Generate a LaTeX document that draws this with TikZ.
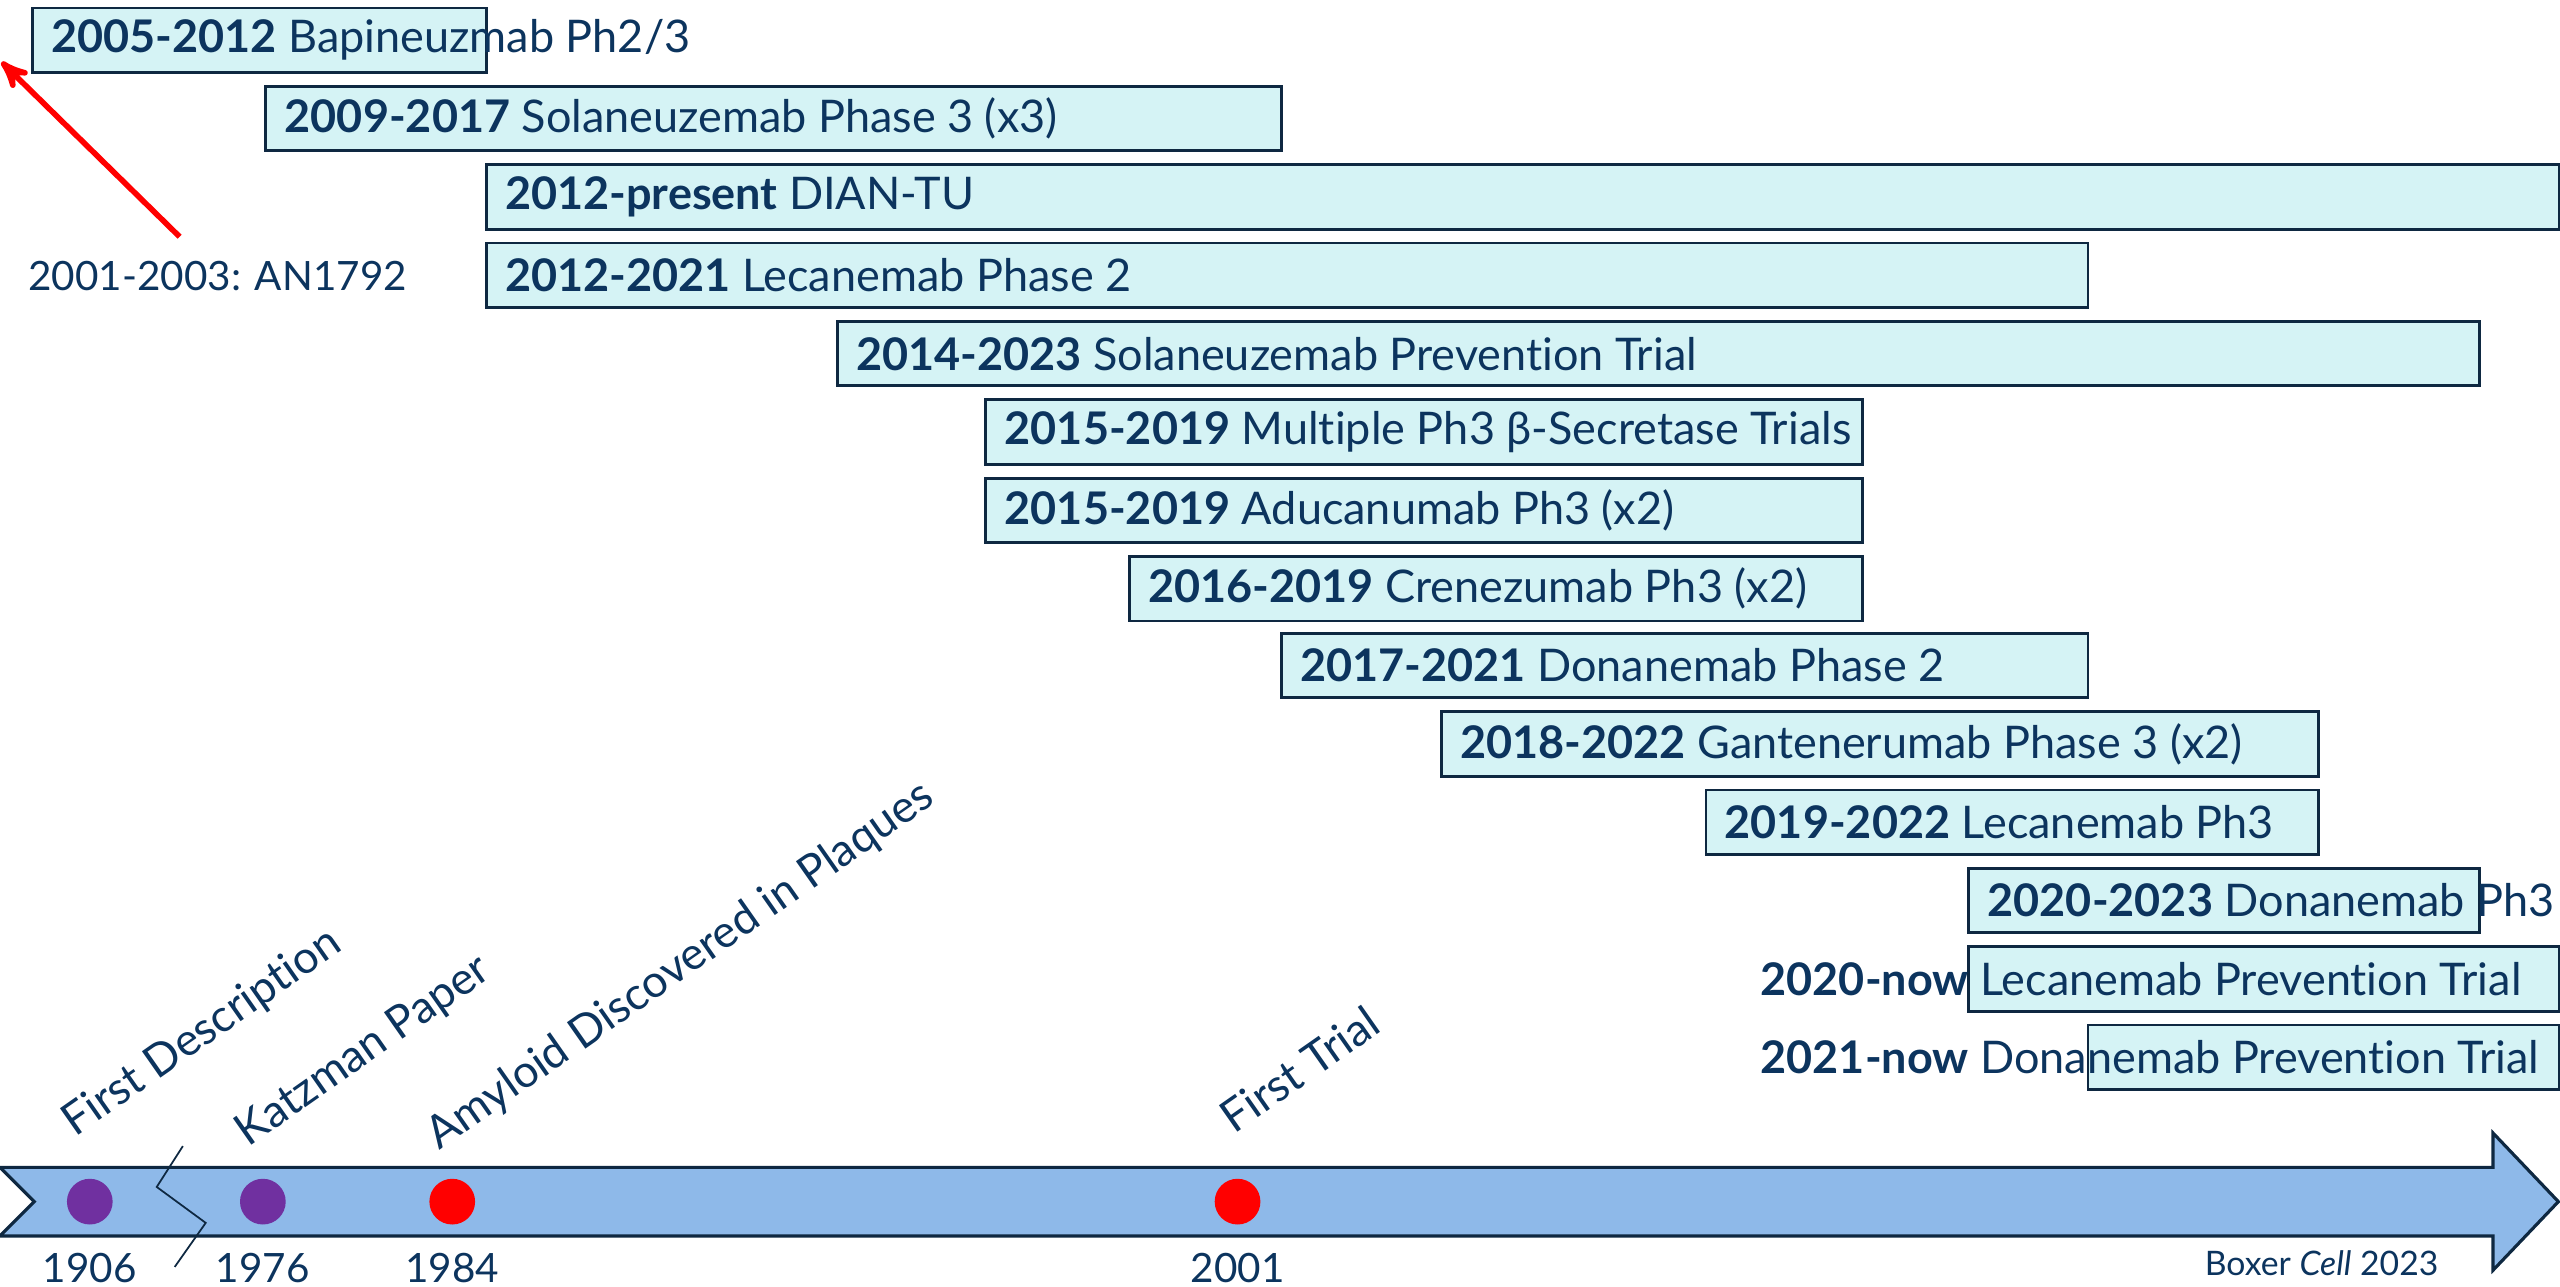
\documentclass[tikz,border=0pt]{standalone}
\usepackage{fontspec}
\setmainfont{Lato}[Ligatures={NoCommon}]
\usetikzlibrary{arrows,positioning}
\definecolor{navy}{HTML}{0C345E}
\definecolor{edge}{HTML}{0E2841}
\definecolor{boxfill}{HTML}{D5F3F5}
\definecolor{axisfill}{HTML}{8EB9E9}
\definecolor{dotpurple}{HTML}{7030A0}
\newlength\px
\setlength\px{0.016327cm}
\tikzset{
    %Define standard arrow tip
    >=stealth',
    %Define style for trial boxes
    trial/.style={
           rectangle,
           draw=edge, line width=0.8pt,
           fill=boxfill,
           anchor=north west,
           minimum height=39.5\px,
           inner sep=0pt},
    triallabel/.style={
           anchor=west,
           inner sep=0pt,
           text=navy,
           font=\fontsize{12.8}{15}\selectfont},
    % Define style for timeline events
    event/.style={
           circle,
           minimum size=28\px,
           inner sep=0pt},
    year/.style={
           inner sep=0pt,
           text=navy,
           font=\fontsize{11.5}{13}\selectfont},
    milestone/.style={
           anchor=base west,
           rotate=35,
           inner sep=0pt,
           text=navy,
           font=\fontsize{12.8}{15}\selectfont}
}
\begin{document}
\begin{tikzpicture}[x=0.016327cm,y=-0.016327cm]
\useasboundingbox (0,0) rectangle (1568,788);
% timeline
\draw[draw=edge, line width=0.9pt, fill=axisfill]
    (0,715) -- (1527,715) -- (1527,694) -- (1567,736) -- (1527,778)
    -- (1527,757) -- (0,757) -- (21,736) -- cycle;
\draw[edge, line width=0.5pt] (112,702) -- (96,727) -- (126,749) -- (107,776);
\node[event, fill=dotpurple](d1906) at (55,736){};
\node[event, fill=dotpurple](d1976) at (161,736){};
\node[event, fill=red](d1984) at (277,736){};
\node[event, fill=red](d2001) at (758,736){};
\node[year, below=17\px of d1906](y1906){1906};
\node[year, below=17\px of d1976](y1976){1976};
\node[year, below=17\px of d1984](y1984){1984};
\node[year, below=17\px of d2001](y2001){2001};
\node[milestone](m1) at (46,697){First Description};
\node[milestone](m2) at (152,703){Katzman Paper};
\node[milestone](m3) at (269,705){Amyloid Discovered in Plaques};
\node[milestone](m4) at (756,695){First Trial};
% trials
\node[trial, minimum width=278\px](t0) at (19,4){};
\node[trial, minimum width=622\px](t1) at (162,52){};
\node[trial, minimum width=1270\px](t2) at (297,100){};
\node[trial, minimum width=981\px](t3) at (297,148){};
\node[trial, minimum width=1006\px](t4) at (512,196){};
\node[trial, minimum width=537\px](t5) at (603,244){};
\node[trial, minimum width=537\px](t6) at (603,292){};
\node[trial, minimum width=449\px](t7) at (691,340){};
\node[trial, minimum width=494\px](t8) at (784,387){};
\node[trial, minimum width=537\px](t9) at (882,435){};
\node[trial, minimum width=375\px](t10) at (1044,483){};
\node[trial, minimum width=313\px](t11) at (1205,531){};
\node[trial, minimum width=362\px](t12) at (1205,579){};
\node[trial, minimum width=289\px](t13) at (1278,627){};
\node[triallabel](l0) at ([xshift=12\px]t0.west){\textbf{2005-2012} Bapineuzmab Ph2/3};
\node[triallabel](l1) at ([xshift=12\px]t1.west){\textbf{2009-2017} Solaneuzemab Phase 3 (x3)};
\node[triallabel](l2) at ([xshift=12\px]t2.west){\textbf{2012-present} DIAN-TU};
\node[triallabel](l3) at ([xshift=12\px]t3.west){\textbf{2012-2021} Lecanemab Phase 2};
\node[triallabel](l4) at ([xshift=12\px]t4.west){\textbf{2014-2023} Solaneuzemab Prevention Trial};
\node[triallabel](l5) at ([xshift=12\px]t5.west){\textbf{2015-2019} Multiple Ph3 β-Secretase Trials};
\node[triallabel](l6) at ([xshift=12\px]t6.west){\textbf{2015-2019} Aducanumab Ph3 (x2)};
\node[triallabel](l7) at ([xshift=12\px]t7.west){\textbf{2016-2019} Crenezumab Ph3 (x2)};
\node[triallabel](l8) at ([xshift=12\px]t8.west){\textbf{2017-2021} Donanemab Phase 2};
\node[triallabel](l9) at ([xshift=12\px]t9.west){\textbf{2018-2022} Gantenerumab Phase 3 (x2)};
\node[triallabel](l10) at ([xshift=12\px]t10.west){\textbf{2019-2022} Lecanemab Ph3};
\node[triallabel](l11) at ([xshift=12\px]t11.west){\textbf{2020-2023} Donanemab Ph3};
\node[triallabel](l12) at (1078,0 |- t12.west){\textbf{2020-now} Lecanemab Prevention Trial};
\node[triallabel](l13) at (1078,0 |- t13.west){\textbf{2021-now} Donanemab Prevention Trial};
% first vaccine
\node[year, anchor=west](an) at (17,169){2001-2003: AN1792};
\coordinate (anstart) at (110,145);
\coordinate (antip) at (1,38);
\draw[->, red, line width=1.6pt] (anstart) -- (antip);
\node[year, font=\fontsize{9.6}{11}\selectfont](src) at (1422,774){Boxer \textit{Cell} 2023};
\end{tikzpicture}
\end{document}
